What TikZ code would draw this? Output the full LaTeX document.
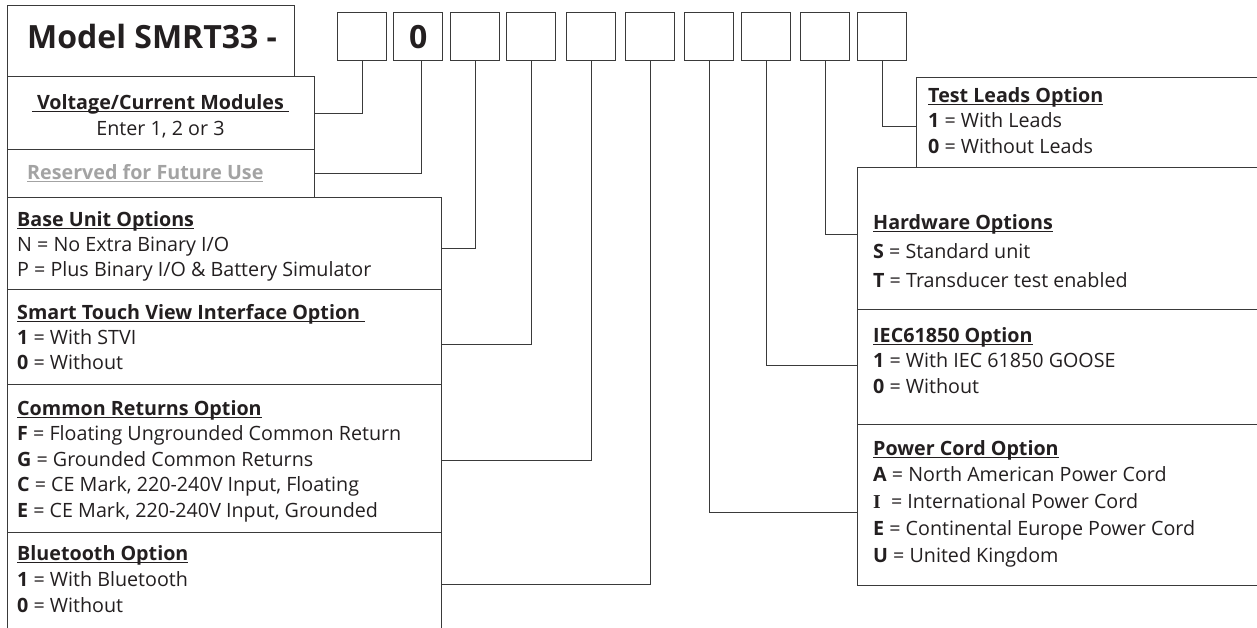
\documentclass[tikz,border=0pt]{standalone}
\usepackage{fontspec}
\setmainfont{Open Sans}
\newfontfamily\serifI{Liberation Serif}
\usetikzlibrary{positioning}

\definecolor{linec}{HTML}{3A3A3A}
\definecolor{inkc}{HTML}{231F20}
\definecolor{greyc}{HTML}{A3A3A3}

\newsavebox{\ulsave}
\newcommand{\ultext}[1]{\leavevmode\sbox{\ulsave}{#1}\rlap{\rule[-3pt]{\wd\ulsave}{1.3pt}}\usebox{\ulsave}}
\newcommand{\optline}[2]{\textbf{#1} = #2}

\tikzset{
  optbox/.style={draw=linec, line width=1.3pt, rectangle, anchor=north west, inner sep=0pt},
  digitbox/.style={draw=linec, line width=1.3pt, rectangle, anchor=north west, inner sep=0pt,
    minimum width=49pt, minimum height=48pt},
  opttext/.style={anchor=base west, align=left, inner sep=0pt, text=inkc},
  link/.style={draw=linec, line width=1.1pt},
}

\begin{document}
\begin{tikzpicture}[x=1pt, y=-1pt]
  \useasboundingbox (0,0) rectangle (1257,627);
  \clip (0,0) rectangle (1257,627);

  % header and code squares
  \node[optbox, minimum width=287pt, minimum height=71pt] (head) at (7,5) {};
  \node[anchor=base west, inner sep=0pt, text=inkc, font=\fontsize{32}{32}\selectfont\bfseries] (title) at (27,48) {Model SMRT33 -};

  \node[digitbox] (s1) at (337,12) {};
  \node[digitbox] (s2) at (393,12) {};
  \node[digitbox] (s3) at (450,12) {};
  \node[digitbox] (s4) at (506,12) {};
  \node[digitbox] (s5) at (566,12) {};
  \node[digitbox] (s6) at (625,12) {};
  \node[digitbox] (s7) at (684,12) {};
  \node[digitbox] (s8) at (741,12) {};
  \node[digitbox] (s9) at (800,12) {};
  \node[digitbox] (s10) at (857,12) {};
  \node[inner sep=0pt, text=inkc, font=\fontsize{32}{32}\selectfont\bfseries] (zero) at (s2.center) {0};

  % left column (text nodes sit on the baseline of their last line)
  \node[optbox, minimum width=307pt, minimum height=73pt] (vcm) at (7,76) {};
  \node[anchor=base, inner sep=0pt, text=inkc, align=center, font=\fontsize{19.7}{26}\selectfont] (vcmtxt) at (160.5,135)
    {\ultext{\textbf{\ Voltage/Current Modules\ }}\\Enter 1, 2 or 3};

  \node[optbox, minimum width=307pt, minimum height=48pt] (rsv) at (7,149) {};
  \node[opttext, text=greyc, font=\fontsize{19.7}{25}\selectfont\bfseries] (rsvtxt) at (27,179)
    {\ultext{Reserved for Future Use}};

  \node[optbox, minimum width=434pt, minimum height=92pt] (base) at (7,197) {};
  \node[opttext, font=\fontsize{19.7}{25}\selectfont] (basetxt) at (17,276)
    {\ultext{\textbf{Base Unit Options}}\\
     N = No Extra Binary I/O\\
     P = Plus Binary I/O \& Battery Simulator};

  \node[optbox, minimum width=434pt, minimum height=95pt] (stvi) at (7,289) {};
  \node[opttext, font=\fontsize{19.7}{25}\selectfont] (stvitxt) at (17,369)
    {\ultext{\textbf{Smart Touch View Interface Option\ }}\\
     \optline{1}{With STVI}\\
     \optline{0}{Without}};

  \node[optbox, minimum width=434pt, minimum height=148pt] (cret) at (7,384) {};
  \node[opttext, font=\fontsize{19.7}{25.5}\selectfont] (crettxt) at (17,517)
    {\ultext{\textbf{Common Returns Option}}\\
     \optline{F}{Floating Ungrounded Common Return}\\
     \optline{G}{Grounded Common Returns}\\
     \optline{C}{CE Mark, 220-240V Input, Floating}\\
     \optline{E}{CE Mark, 220-240V Input, Grounded}};

  \node[optbox, minimum width=434pt, minimum height=104pt] (blue) at (7,532) {};
  \node[opttext, font=\fontsize{19.7}{26}\selectfont] (bluetxt) at (17,612)
    {\ultext{\textbf{Bluetooth Option}}\\
     \optline{1}{With Bluetooth}\\
     \optline{0}{Without}};

  % right column
  \node[optbox, minimum width=400pt, minimum height=90pt] (leads) at (916,77) {};
  \node[opttext, font=\fontsize{19.7}{25.5}\selectfont] (leadstxt) at (928,153)
    {\ultext{\textbf{Test Leads Option}}\\
     \optline{1}{With Leads}\\
     \optline{0}{Without Leads}};

  \node[optbox, minimum width=460pt, minimum height=142pt] (hw) at (857,167) {};
  \node[opttext, font=\fontsize{19.7}{29}\selectfont] (hwtxt) at (873,287)
    {\ultext{\textbf{Hardware Options}}\\
     \optline{S}{Standard unit}\\
     \optline{T}{Transducer test enabled}};

  \node[optbox, minimum width=460pt, minimum height=115pt] (iec) at (857,309) {};
  \node[opttext, font=\fontsize{19.7}{25.5}\selectfont] (iectxt) at (873,393)
    {\ultext{\textbf{IEC61850 Option}}\\
     \optline{1}{With IEC 61850 GOOSE}\\
     \optline{0}{Without}};

  \node[optbox, minimum width=460pt, minimum height=161pt] (cord) at (857,424) {};
  \node[opttext, font=\fontsize{19.7}{26.75}\selectfont] (cordtxt) at (873,562)
    {\ultext{\textbf{Power Cord Option}}\\
     \optline{A}{North American Power Cord}\\
     {\serifI\bfseries I}\ \ = International Power Cord\\
     \optline{E}{Continental Europe Power Cord}\\
     \optline{U}{United Kingdom}};

  % connectors
  \draw[link] (s1.south) |- (vcm.east);
  \draw[link] ([xshift=3pt]s2.south) |- (rsv.east);
  \draw[link] (s3.south) |- ([yshift=-5pt]base.east);
  \draw[link] (s4.south) |- ([yshift=-7.5pt]stvi.east);
  \draw[link] (s5.south) |- ([yshift=-2pt]cret.east);
  \draw[link] (s6.south) |- (blue.east);
  \draw[link] (s7.south) |- ([yshift=-7.5pt]cord.west);
  \draw[link] (s8.south) |- ([yshift=1.5pt]iec.west);
  \draw[link] (s9.south) |- ([yshift=4pt]hw.west);
  \draw[link] (s10.south) |- ([yshift=-4pt]leads.west);
\end{tikzpicture}
\end{document}
